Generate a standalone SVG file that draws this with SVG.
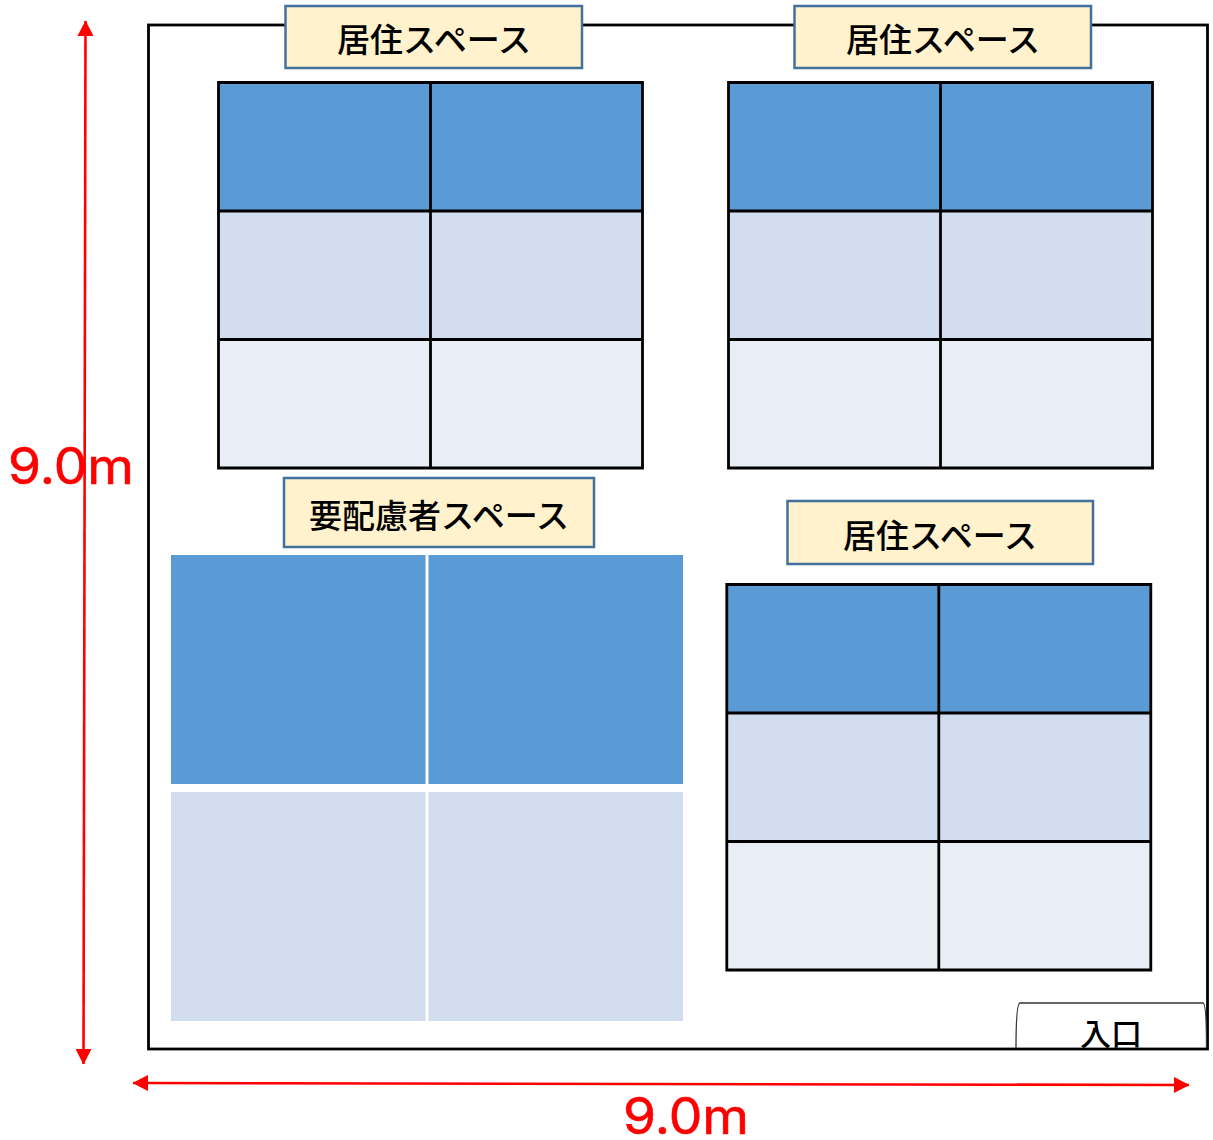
<svg xmlns="http://www.w3.org/2000/svg" width="1213" height="1140" viewBox="0 0 1213 1140">
<style>
.jp{font-family:"Noto Sans CJK JP","Noto Sans",sans-serif;fill:#000;text-anchor:middle;font-weight:500}
.lab{fill:#fff2cc;stroke:#41719c;stroke-width:2.500}
.c1{fill:#5b9bd5}.c2{fill:#d2ddef}.c3{fill:#e9edf6}
.g{fill:none;stroke:#000;stroke-width:2.800}
.dim{fill:#f00;stroke:#f00;stroke-width:.6;font-family:"Inter","Liberation Sans",sans-serif;font-size:50px;text-anchor:middle}
.a{stroke:#f00;stroke-width:2.600;fill:none;marker-start:url(#h);marker-end:url(#h)}
</style>
<defs>
<marker id="h" markerUnits="userSpaceOnUse" markerWidth="16" markerHeight="16" refX="15" refY="8" orient="auto-start-reverse"><path d="M0 0L15.500 8L0 16z" fill="#f00"/></marker>
<g id="grid">
<rect class="c1" x="0" y="0" width="424" height="128.500"/>
<rect class="c2" x="0" y="128.500" width="424" height="128.500"/>
<rect class="c3" x="0" y="257" width="424" height="128.500"/>
<path class="g" d="M0 0H424V385.500H0ZM212 0V385.500M0 128.500H424M0 257H424"/>
</g>
</defs>
<g id="room"><rect x="148.500" y="25" width="1059" height="1024" fill="#fff" stroke="#000" stroke-width="2.800"/></g>
<g id="entrance">
<path d="M1016 1048C1016 1025 1017 1003 1020 1003H1203C1206 1003 1206.500 1025 1206.500 1048" fill="none" stroke="#333" stroke-width="1.300"/>
<text class="jp" x="1111" y="1045" font-size="31">入口</text>
</g>
<g id="space-1"><use href="#grid" x="218.500" y="82.500"/>
<rect class="lab" x="285.500" y="6" width="296.500" height="62"/>
<text class="jp" x="434" y="51.500" font-size="33">居住スペース</text></g>
<g id="space-2"><use href="#grid" x="728.500" y="82.500"/>
<rect class="lab" x="794.500" y="6" width="296.500" height="62"/>
<text class="jp" x="943" y="51.500" font-size="33">居住スペース</text></g>
<g id="space-3"><use href="#grid" x="726.800" y="584.500"/>
<rect class="lab" x="787.500" y="501" width="305.500" height="63"/>
<text class="jp" x="940" y="547.500" font-size="33">居住スペース</text></g>
<g id="care-space">
<rect class="lab" x="284" y="478" width="310" height="69"/>
<text class="jp" x="439" y="527.500" font-size="33">要配慮者スペース</text>
<rect class="c1" x="171" y="555" width="254.500" height="229"/>
<rect class="c1" x="428.500" y="555" width="254.500" height="229"/>
<rect class="c2" x="171" y="792" width="254.500" height="229"/>
<rect class="c2" x="428.500" y="792" width="254.500" height="229"/>
</g>
<g id="connectors">
<path class="a" d="M83.500 1064L85.500 21"/>
<path class="a" d="M133 1083L1189 1085"/>
</g>
<text class="dim" x="71" y="484" textLength="126" lengthAdjust="spacingAndGlyphs">9.0m</text>
<text class="dim" x="686" y="1134" textLength="126" lengthAdjust="spacingAndGlyphs">9.0m</text>
</svg>
